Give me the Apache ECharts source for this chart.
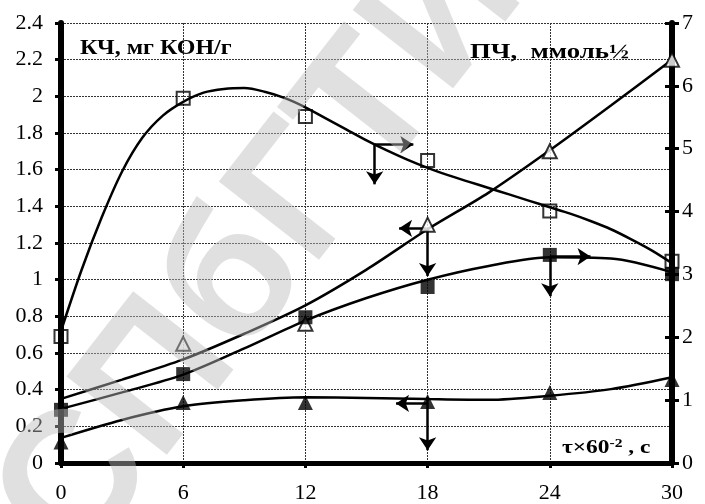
<!DOCTYPE html>
<html><head><meta charset="utf-8">
<script src="https://cdn.jsdelivr.net/npm/echarts@6/dist/echarts.min.js"></script>
<style>html,body{margin:0;padding:0;background:#fff}#c{width:705px;height:504px}</style>
</head><body><div id="c"></div>
<script>
// X ticks and axis ranges
const xTicks = [0, 6, 12, 18, 24, 30];
const leftMax = 2.4, rightMax = 7;

// Measured points (left axis units)
const openSquareX = [0, 6, 12, 18, 24, 30];
const openSquareY = [0.69, 1.99, 1.89, 1.65, 1.375, 1.10];
const openTriX = [6, 12, 18, 24, 30];
const openTriY = [0.65, 0.76, 1.30, 1.70, 2.20];
const fillSquareX = [0, 6, 12, 18, 24, 30];
const fillSquareY = [0.29, 0.485, 0.795, 0.96, 1.135, 1.03];
const fillTriX = [0, 6, 12, 18, 24, 30];
const fillTriY = [0.115, 0.33, 0.33, 0.335, 0.385, 0.455];

// Trend curves
const curve1X = [0, 1, 2, 3, 4, 5, 6, 7, 8, 9, 10, 11, 12, 13, 14, 15, 16, 17, 18, 19, 20, 21, 22, 23, 24, 25, 26, 27, 28, 29, 30];
const curve1Y = [0.72, 1.05, 1.34, 1.59, 1.775, 1.895, 1.97, 2.02, 2.04, 2.045, 2.025, 1.99, 1.94, 1.88, 1.82, 1.76, 1.705, 1.655, 1.61, 1.57, 1.535, 1.50, 1.465, 1.43, 1.395, 1.36, 1.32, 1.275, 1.22, 1.16, 1.09];
const curve2X = [0, 3, 6, 9, 12, 15, 18, 21, 24, 27, 30];
const curve2Y = [0.35, 0.455, 0.565, 0.705, 0.86, 1.055, 1.275, 1.475, 1.706, 1.95, 2.20];
const curve3X = [0, 3, 6, 9, 12, 15, 18, 21, 24, 27, 30];
const curve3Y = [0.295, 0.385, 0.482, 0.625, 0.777, 0.90, 1.00, 1.075, 1.122, 1.115, 1.04];
const curve4X = [0, 3, 6, 9, 12, 15, 18, 21, 24, 27, 30];
const curve4Y = [0.137, 0.235, 0.309, 0.342, 0.358, 0.355, 0.349, 0.345, 0.367, 0.403, 0.468];

// Axis-pointing arrows: [startX, startY, endX, endY]
const arrowList = [
  [15.4, 1.737, 17.3, 1.737],
  [15.4, 1.737, 15.4, 1.52],
  [17.95, 1.28, 16.6, 1.28],
  [18.0, 1.275, 18.0, 1.02],
  [24.0, 1.126, 26.0, 1.126],
  [24.0, 1.126, 24.0, 0.91],
  [18.0, 0.325, 16.45, 0.325],
  [18.0, 0.36, 18.0, 0.07]
];

const leftTitle = 'КЧ, мг КОН/г';
const rightTitle = 'ПЧ,  ммоль½';
const watermark = 'СПбГТИ';

const zip = (xs, ys) => xs.map((x, i) => [x, ys[i]]);
const serif = '"Liberation Serif", "Times New Roman", serif';
const grid = {left: 61, right: 33, top: 23, bottom: 36};

const lineSeries = (xs, ys) => ({
  type: 'line', data: zip(xs, ys), smooth: 0.3, symbol: 'none', yAxisIndex: 0,
  lineStyle: {color: '#000', width: 2.5}, z: 3, silent: true
});

const chart = echarts.init(document.getElementById('c'));
chart.setOption({
  animation: false,
  backgroundColor: '#fff',
  grid: grid,
  xAxis: {
    type: 'value', min: xTicks[0], max: xTicks[xTicks.length - 1], interval: 6,
    axisLine: {lineStyle: {color: '#000', width: 5}},
    axisTick: {length: 5, lineStyle: {color: '#000', width: 3}},
    axisLabel: {color: '#000', fontFamily: serif, fontSize: 22, margin: 19},
    splitLine: {show: true, lineStyle: {color: '#333', width: 1, type: [2, 1]}}
  },
  yAxis: [
    {type: 'value', min: 0, max: leftMax, interval: 0.2, position: 'left',
     axisLine: {show: true, lineStyle: {color: '#000', width: 6}},
     axisTick: {show: true, length: 6, lineStyle: {color: '#000', width: 3}},
     axisLabel: {color: '#000', fontFamily: serif, fontSize: 22, margin: 18},
     splitLine: {show: true, lineStyle: {color: '#333', width: 1, type: [2, 1]}}},
    {type: 'value', min: 0, max: rightMax, interval: 1, position: 'right',
     axisLine: {show: true, lineStyle: {color: '#000', width: 6}},
     axisTick: {show: true, length: 7, lineStyle: {color: '#000', width: 3}},
     axisLabel: {color: '#000', fontFamily: serif, fontSize: 22, margin: 10},
     splitLine: {show: false}},
    {type: 'value', min: 0, max: rightMax, interval: 1, position: 'right',
     axisLine: {show: false},
     axisTick: {show: true, inside: true, length: 7, lineStyle: {color: '#000', width: 3}},
     axisLabel: {show: false}, splitLine: {show: false}}
  ],
  series: [
    lineSeries(curve1X, curve1Y),
    lineSeries(curve2X, curve2Y),
    lineSeries(curve3X, curve3Y),
    lineSeries(curve4X, curve4Y),
    {type: 'scatter', data: zip(openSquareX, openSquareY), symbol: 'rect', symbolSize: 13,
     itemStyle: {color: 'rgba(255,255,255,0)', borderColor: '#000', borderWidth: 2}, z: 5},
    {type: 'scatter', data: zip(openTriX, openTriY), symbol: 'triangle', symbolSize: 14,
     itemStyle: {color: '#fff', borderColor: '#000', borderWidth: 2}, z: 5},
    {type: 'scatter', data: zip(fillSquareX, fillSquareY), symbol: 'rect', symbolSize: 14,
     itemStyle: {color: '#000'}, z: 6},
    {type: 'scatter', data: zip(fillTriX, fillTriY), symbol: 'triangle', symbolSize: 15,
     itemStyle: {color: '#000'}, z: 6},
    {type: 'line', data: [], silent: true, z: 7,
     markLine: {
       silent: true, symbol: ['none', 'arrow'], symbolSize: 13,
       label: {show: false},
       lineStyle: {color: '#000', width: 2.5, type: 'solid'},
       data: arrowList.map(a => [{coord: [a[0], a[1]]}, {coord: [a[2], a[3]]}])
     }}
  ],
  graphic: [
    {type: 'text', x: 80, y: 49, scaleX: 1.2, z: 50,
     style: {text: leftTitle, font: 'bold 20px ' + serif, fill: '#000', verticalAlign: 'middle'}},
    {type: 'text', x: 470, y: 53, scaleX: 1.34, z: 50,
     style: {text: rightTitle, font: 'bold 20px ' + serif, fill: '#000', verticalAlign: 'middle'}},
    {type: 'text', x: 562, y: 448, scaleX: 1.3, z: 50,
     style: {text: '{a|τ×60}{s|-2}{a| , с}', verticalAlign: 'middle', fill: '#000',
       rich: {a: {font: 'bold 18px ' + serif, fill: '#000', lineHeight: 20},
              s: {font: 'bold 12px ' + serif, fill: '#000', lineHeight: 20, padding: [0, 0, 9, 0]}}}},
    {type: 'text', x: 262, y: 250, rotation: 52 * Math.PI / 180, z: 100, silent: true,
     style: {text: watermark, font: 'bold 185px "Liberation Sans", sans-serif',
       fill: 'rgba(187,187,187,0.455)', align: 'center', verticalAlign: 'middle'}}
  ]
});
</script></body></html>
